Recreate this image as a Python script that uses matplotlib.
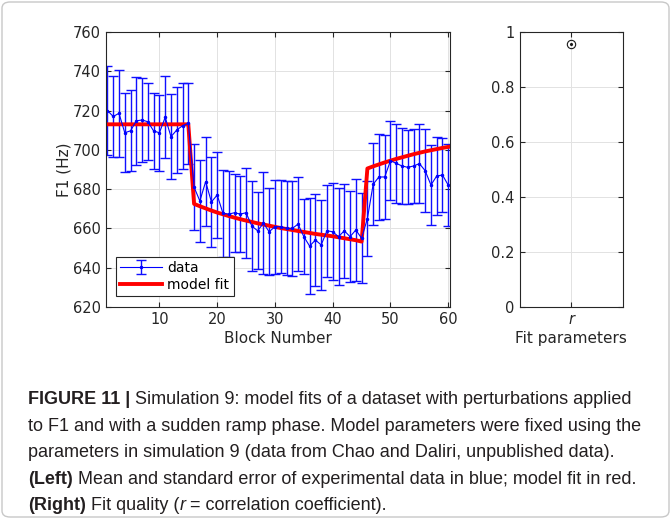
import numpy as np
import matplotlib
matplotlib.use("Agg")
import matplotlib.pyplot as plt
from matplotlib.patches import FancyBboxPatch

# block-wise mean F1 and standard error
blocks = np.arange(1, 61)
f1_mean = [720.0, 717.0, 718.6, 708.7, 709.7, 714.8, 715.2, 714.3, 709.6, 708.7,
           716.6, 706.7, 710.1, 712.3, 713.5, 681.0, 674.0, 683.8, 673.5, 677.0,
           667.7, 667.3, 668.0, 667.3, 668.0, 661.2, 658.8, 662.6, 658.3, 660.9,
           660.9, 660.0, 660.0, 662.2, 655.8, 651.0, 654.1, 651.6, 658.8, 658.3,
           655.8, 658.8, 655.8, 659.2, 655.0, 665.0, 682.5, 686.2, 686.2, 694.5,
           693.1, 691.8, 691.1, 691.8, 693.0, 689.4, 682.1, 686.7, 687.2, 682.0]
f1_err = [22.5, 20.5, 22.3, 20.2, 20.6, 22.5, 21.2, 19.5, 19.1, 19.4,
          20.8, 21.7, 22.1, 21.9, 20.5, 21.8, 21.0, 22.5, 22.7, 21.9,
          22.0, 21.8, 19.8, 19.5, 22.9, 23.0, 19.5, 26.0, 22.2, 23.9,
          23.7, 23.9, 24.0, 23.9, 19.1, 24.3, 23.5, 23.1, 23.5, 24.8,
          24.6, 23.8, 23.3, 26.0, 23.0, 19.0, 21.0, 22.0, 21.5, 20.0,
          20.1, 19.5, 18.9, 18.8, 20.0, 21.2, 20.4, 20.0, 18.7, 21.0]
model_fit = [713.0] * 15 + [
    672.5, 671.3, 670.2, 669.1, 668.1, 667.2, 666.3, 665.5, 664.7, 664.0,
    663.3, 662.6, 662.0, 661.4, 660.8, 660.2, 659.7, 659.2, 658.7, 658.2,
    657.7, 657.2, 656.8, 656.4, 656.0, 655.5, 655.0, 654.5, 654.0, 653.3,
    690.5, 691.6, 692.6, 693.6, 694.5, 695.4, 696.2, 697.0, 697.8, 698.5,
    699.2, 699.8, 700.4, 701.0, 701.5]

fit_names = ["r"]
fit_values = [0.955]

caption = [
    [("FIGURE 11 |", "bold", "normal"),
     (" Simulation 9: model fits of a dataset with perturbations applied", "normal", "normal")],
    [("to F1 and with a sudden ramp phase. Model parameters were fixed using the", "normal", "normal")],
    [("parameters in simulation 9 (data from Chao and Daliri, unpublished data).", "normal", "normal")],
    [("(Left)", "bold", "normal"),
     (" Mean and standard error of experimental data in blue; model fit in red.", "normal", "normal")],
    [("(Right)", "bold", "normal"), (" Fit quality (", "normal", "normal"),
     ("r", "normal", "italic"), (" = correlation coefficient).", "normal", "normal")],
]

axcol = "#262626"
gridcol = "#e2e2e2"
plt.rcParams["font.family"] = "DejaVu Sans"

W, H = 671, 519
fig = plt.figure(figsize=(W / 100, H / 100), dpi=100)

# frame round the whole figure
frame = FancyBboxPatch((2 / W, 2 / H), 1 - 4 / W, 1 - 4 / H,
                       boxstyle="round,pad=0,rounding_size=0.012",
                       transform=fig.transFigure, facecolor="none",
                       edgecolor="#c8c8c8", linewidth=1.0)
fig.patches.append(frame)


def matlab_axes(ax):
    ax.set_axisbelow(True)
    ax.grid(True, color=gridcol, linewidth=0.7)
    for s in ax.spines.values():
        s.set_color(axcol)
        s.set_linewidth(0.8)
    ax.tick_params(direction="in", top=True, right=True, length=3.5,
                   width=0.8, colors=axcol, labelsize=10.5)


# left panel
ax1 = fig.add_axes([105.7 / W, 1 - 307 / H, (450 - 105.7) / W, (307 - 32) / H])
matlab_axes(ax1)
eb = ax1.errorbar(blocks, f1_mean, yerr=f1_err, fmt=".-", color="#0000ff",
                  ecolor="#0f0fff", elinewidth=1.0, linewidth=0.8,
                  markersize=3, capsize=3.8, capthick=1.0, label="data")
for cap in eb[1]:
    cap.set_color("#5c5cff")
fit_line, = ax1.plot(blocks, model_fit, color="#ff0000", linewidth=2.8,
                     label="model fit")
ax1.set_xlim(0.7, 60.3)
ax1.set_ylim(620, 760)
ax1.set_xticks(np.arange(10, 61, 10))
ax1.set_yticks(np.arange(620, 761, 20))
ax1.set_xlabel("Block Number", fontsize=11, color=axcol, labelpad=3)
ax1.set_ylabel("F1 (Hz)", fontsize=11, color=axcol, labelpad=1)
leg = ax1.legend([eb, fit_line], ["data", "model fit"], loc="lower left",
                 bbox_to_anchor=(0.03, 0.04), borderaxespad=0,
                 fontsize=10, handlelength=3.0, fancybox=False, framealpha=1,
                 borderpad=0.3, labelspacing=0.2, handletextpad=0.4)
leg.get_frame().set_edgecolor(axcol)
leg.get_frame().set_linewidth(0.8)

# right panel
ax2 = fig.add_axes([519.5 / W, 1 - 307 / H, (623 - 519.5) / W, (307 - 32) / H])
matlab_axes(ax2)
xpos = np.arange(1, len(fit_names) + 1)
ax2.plot(xpos, fit_values, "o", mfc="none", mec="#1a1a1a", markersize=6, mew=0.8)
ax2.plot(xpos, fit_values, ".", color="#1a1a1a", markersize=2.5)
ax2.set_xlim(0.5, 1.5)
ax2.set_ylim(0, 1)
ax2.set_xticks(xpos)
ax2.set_xticklabels(fit_names, fontstyle="italic")
ax2.set_yticks([0, 0.2, 0.4, 0.6, 0.8, 1])
ax2.set_yticklabels(["0", "0.2", "0.4", "0.6", "0.8", "1"])
ax2.set_xlabel("Fit parameters", fontsize=11, color=axcol, labelpad=3)

# caption with mixed bold / italic runs
renderer = fig.canvas.get_renderer()
cap_font = ["Liberation Sans Narrow", "Liberation Sans", "DejaVu Sans"]
y = 1 - 404 / H
for line in caption:
    x = 28 / W
    for txt, weight, style in line:
        t = fig.text(x, y, txt, fontsize=13.0, fontweight=weight, fontstyle=style,
                     family=cap_font, color="#231f20", va="baseline", ha="left")
        bb = t.get_window_extent(renderer)
        x += bb.width / W
    y -= 26.6 / H

fig.savefig("out.png", dpi=100)
